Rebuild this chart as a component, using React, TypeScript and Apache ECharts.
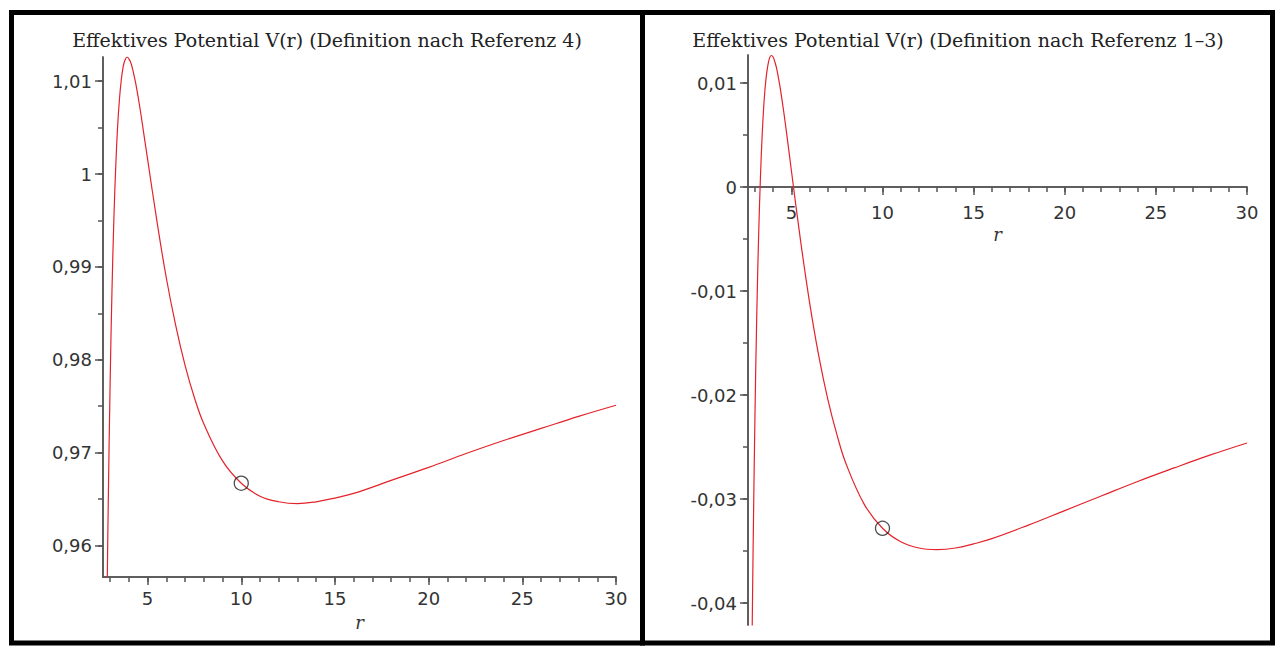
import React, { useEffect, useRef } from "react";
import * as echarts from "echarts";

// radius r (x values shared by both panels)
const rValues = [2.8, 2.85, 2.9, 3.0, 3.1, 3.2, 3.3, 3.4, 3.5, 3.6, 3.7, 3.8, 3.9, 4.0, 4.1, 4.2, 4.3, 4.4, 4.6, 4.8, 5.0, 5.5, 6.0, 6.5, 7.0, 7.5, 8.0, 9.0, 10, 11, 12, 13, 14, 15, 16, 18, 20, 22, 24, 26, 28, 30];
// left panel: Definition nach Referenz 4
const potentialRef4 = [0.9476, 0.9566, 0.9645, 0.9775, 0.9875, 0.9951, 1.0008, 1.0051, 1.0081, 1.0102, 1.0116, 1.0123, 1.0126, 1.0124, 1.012, 1.0113, 1.0104, 1.0094, 1.007, 1.0043, 1.0016, 0.9949, 0.9888, 0.9837, 0.9794, 0.9759, 0.9731, 0.9691, 0.9667, 0.9653, 0.9647, 0.9645, 0.9647, 0.9651, 0.9656, 0.967, 0.9684, 0.9699, 0.9713, 0.9726, 0.9739, 0.9751];
// right panel: Definition nach Referenz 1-3
const potentialRef13 = [-0.051, -0.04245, -0.03485, -0.0222, -0.0124, -0.0049, 0.0008, 0.0051, 0.0082, 0.0103, 0.0116, 0.0124, 0.01265, 0.0125, 0.012, 0.01135, 0.0104, 0.0094, 0.007, 0.00435, 0.0016, -0.0051, -0.0111, -0.0162, -0.0204, -0.0238, -0.0266, -0.0305, -0.0328, -0.0341, -0.0347, -0.03485, -0.0347, -0.0343, -0.0338, -0.0325, -0.0311, -0.0297, -0.0283, -0.027, -0.02575, -0.0246];

// marked point (circle)
const markedR = [10];
const markedRef4 = [0.9667];
const markedRef13 = [-0.0328];

// axis extents
const xRange = [2.62, 30];
const leftYRange = [0.9566, 1.0126];
const rightYRange = [-0.0421, 0.0127];

// ticks
const xMajorTicks = [5, 10, 15, 20, 25, 30];
const xMinorTicks = [3, 4, 5, 6, 7, 8, 9, 10, 11, 12, 13, 14, 15, 16, 17, 18, 19, 20, 21, 22, 23, 24, 25, 26, 27, 28, 29, 30];
const leftYMajorTicks = [0.96, 0.97, 0.98, 0.99, 1.0, 1.01];
const leftYMinorTicks = [0.96, 0.965, 0.97, 0.975, 0.98, 0.985, 0.99, 0.995, 1.0, 1.005, 1.01];
const rightYMajorTicks = [-0.04, -0.03, -0.02, -0.01, 0, 0.01];
const rightYMinorTicks = [-0.04, -0.035, -0.03, -0.025, -0.02, -0.015, -0.01, -0.005, 0, 0.005, 0.01];

const titles = [
  "Effektives Potential V(r) (Definition nach Referenz 4)",
  "Effektives Potential V(r) (Definition nach Referenz 1\u20133)",
];

const fmt = (v: number) => String(+Number(v).toFixed(4)).replace(".", ",");

export default function App() {
  const ref = useRef<HTMLDivElement>(null);

  useEffect(() => {
    if (!ref.current) return;
    const chart = echarts.init(ref.current, undefined, { renderer: "svg" });

    const lineStyle = { color: "#555", width: 1.5 };
    const labelStyle = { fontFamily: "DejaVu Sans", fontSize: 18, color: "#333" };
    const nameStyle = { fontFamily: "DejaVu Serif", fontStyle: "italic" as const, fontSize: 18, color: "#333" };

    // right panel x axis sits at V = 0: offset from grid bottom (625) up to 187
    const rightOffset = -438;

    const makeX = (grid: number, major: boolean, offset: number, margin: number) => ({
      gridIndex: grid,
      type: "value",
      min: xRange[0],
      max: xRange[1],
      position: "bottom",
      offset,
      axisLine: { show: true, onZero: false, lineStyle },
      axisTick: {
        show: true,
        length: major ? 8 : 5,
        customValues: major ? xMajorTicks : xMinorTicks,
        lineStyle,
      },
      axisLabel: major
        ? { show: true, customValues: xMajorTicks, margin, formatter: (v: number) => fmt(v), ...labelStyle }
        : { show: false },
      splitLine: { show: false },
      ...(major ? { name: "r", nameLocation: "middle", nameGap: 36, nameTextStyle: nameStyle } : {}),
    });

    const makeY = (grid: number, major: boolean, range: number[], majors: number[], minors: number[]) => ({
      gridIndex: grid,
      type: "value",
      min: range[0],
      max: range[1],
      position: "left",
      axisLine: { show: true, onZero: false, lineStyle },
      axisTick: { show: true, length: major ? 8 : 5, customValues: major ? majors : minors, lineStyle },
      axisLabel: major
        ? { show: true, customValues: majors, margin: 11, formatter: (v: number) => fmt(v), ...labelStyle }
        : { show: false },
      splitLine: { show: false },
    });

    const toPairs = (ys: number[]) => rValues.map((r, i) => [r, ys[i]]);

    const curveStyle = { color: "#e3232a", width: 1.2 };

    const option: any = {
      animation: false,
      backgroundColor: "#ffffff",
      grid: [
        { left: 103, top: 57, width: 513, height: 520 },
        { left: 748, top: 55, width: 499, height: 570 },
      ],
      xAxis: [
        makeX(0, true, 0, 12),
        makeX(0, false, 0, 12),
        makeX(1, true, rightOffset, 16),
        makeX(1, false, rightOffset, 16),
      ],
      yAxis: [
        makeY(0, true, leftYRange, leftYMajorTicks, leftYMinorTicks),
        makeY(0, false, leftYRange, leftYMajorTicks, leftYMinorTicks),
        makeY(1, true, rightYRange, rightYMajorTicks, rightYMinorTicks),
        makeY(1, false, rightYRange, rightYMajorTicks, rightYMinorTicks),
      ],
      series: [
        {
          type: "line",
          xAxisIndex: 0,
          yAxisIndex: 0,
          data: toPairs(potentialRef4),
          showSymbol: false,
          smooth: 0.4,
          clip: true,
          lineStyle: curveStyle,
        },
        {
          type: "line",
          xAxisIndex: 2,
          yAxisIndex: 2,
          data: toPairs(potentialRef13),
          showSymbol: false,
          smooth: 0.4,
          clip: true,
          lineStyle: curveStyle,
        },
        {
          type: "scatter",
          xAxisIndex: 0,
          yAxisIndex: 0,
          data: markedR.map((r, i) => [r, markedRef4[i]]),
          symbol: "circle",
          symbolSize: 14,
          itemStyle: { color: "rgba(0,0,0,0)", borderColor: "#222", borderWidth: 1.3 },
          z: 5,
        },
        {
          type: "scatter",
          xAxisIndex: 2,
          yAxisIndex: 2,
          data: markedR.map((r, i) => [r, markedRef13[i]]),
          symbol: "circle",
          symbolSize: 14,
          itemStyle: { color: "rgba(0,0,0,0)", borderColor: "#222", borderWidth: 1.3 },
          z: 5,
        },
      ],
      graphic: [
        {
          type: "rect",
          shape: { x: 11.5, y: 12.5, width: 631, height: 630.5 },
          style: { fill: "none", stroke: "#000", lineWidth: 5 },
          z: 10,
        },
        {
          type: "rect",
          shape: { x: 642.5, y: 12.5, width: 630, height: 630.5 },
          style: { fill: "none", stroke: "#000", lineWidth: 5 },
          z: 10,
        },
        {
          type: "text",
          x: 327,
          y: 40,
          style: {
            text: titles[0],
            fontFamily: "DejaVu Serif",
            fontSize: 19,
            fill: "#222",
            align: "center",
            verticalAlign: "middle",
          },
          z: 10,
        },
        {
          type: "text",
          x: 958,
          y: 40,
          style: {
            text: titles[1],
            fontFamily: "DejaVu Serif",
            fontSize: 19,
            fill: "#222",
            align: "center",
            verticalAlign: "middle",
          },
          z: 10,
        },
      ],
    };

    chart.setOption(option);
    return () => chart.dispose();
  }, []);

  return (
    <div
      ref={ref}
      style={{ position: "absolute", left: 0, top: 0, width: 1281, height: 649, background: "#fff" }}
    />
  );
}
